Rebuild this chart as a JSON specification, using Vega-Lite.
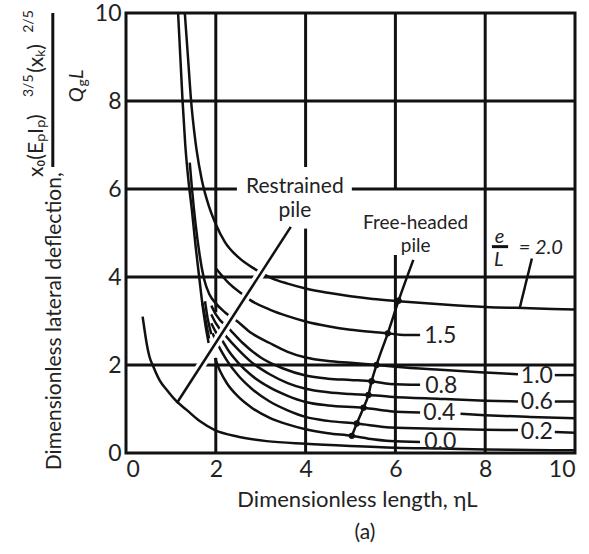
{
  "$schema": "https://vega.github.io/schema/vega-lite/v6.json",
  "width": 449,
  "height": 440,
  "autosize": {"type": "none"},
  "padding": {"left": 126, "top": 13, "right": 14, "bottom": 101},
  "background": "white",
  "config": {
    "view": {"stroke": "#111", "strokeWidth": 3},
    "font": "Lato",
    "axis": {"labelFont": "Lato", "labelFontSize": 23, "labelColor": "#222", "ticks": false, "domain": false, "grid": false, "labelPadding": 5, "titleFont": "Lato", "titleFontSize": 22, "titleFontWeight": "normal", "titleColor": "#222"}
  },
  "datasets": {
    "curves": [
      {"c": "steepA", "x": 1.16, "y": 10}, {"c": "steepA", "x": 1.21, "y": 9}, {"c": "steepA", "x": 1.26, "y": 8}, {"c": "steepA", "x": 1.32, "y": 7}, {"c": "steepA", "x": 1.39, "y": 6.2}, {"c": "steepA", "x": 1.47, "y": 5.5}, {"c": "steepA", "x": 1.55, "y": 4.7}, {"c": "steepA", "x": 1.63, "y": 4.0}, {"c": "steepA", "x": 1.70, "y": 3.4}, {"c": "steepA", "x": 1.77, "y": 2.9}, {"c": "steepA", "x": 1.84, "y": 2.5},
      {"c": "e2.0", "x": 1.31, "y": 10}, {"c": "e2.0", "x": 1.38, "y": 9}, {"c": "e2.0", "x": 1.45, "y": 8}, {"c": "e2.0", "x": 1.52, "y": 7.3}, {"c": "e2.0", "x": 1.57, "y": 6.9}, {"c": "e2.0", "x": 1.69, "y": 6.2}, {"c": "e2.0", "x": 1.85, "y": 5.6}, {"c": "e2.0", "x": 2.0, "y": 5.2}, {"c": "e2.0", "x": 2.2, "y": 4.8}, {"c": "e2.0", "x": 2.5, "y": 4.45}, {"c": "e2.0", "x": 2.87, "y": 4.18}, {"c": "e2.0", "x": 3.25, "y": 3.97}, {"c": "e2.0", "x": 3.6, "y": 3.85}, {"c": "e2.0", "x": 4, "y": 3.74}, {"c": "e2.0", "x": 4.5, "y": 3.64}, {"c": "e2.0", "x": 5, "y": 3.56}, {"c": "e2.0", "x": 5.5, "y": 3.5}, {"c": "e2.0", "x": 6.07, "y": 3.45}, {"c": "e2.0", "x": 7, "y": 3.38}, {"c": "e2.0", "x": 8, "y": 3.32}, {"c": "e2.0", "x": 9, "y": 3.29}, {"c": "e2.0", "x": 10, "y": 3.26},
      {"c": "e1.5", "x": 2.0, "y": 4.2}, {"c": "e1.5", "x": 2.3, "y": 3.85}, {"c": "e1.5", "x": 2.58, "y": 3.62}, {"c": "e1.5", "x": 2.76, "y": 3.48}, {"c": "e1.5", "x": 3.2, "y": 3.26}, {"c": "e1.5", "x": 3.6, "y": 3.11}, {"c": "e1.5", "x": 4, "y": 2.99}, {"c": "e1.5", "x": 4.5, "y": 2.88}, {"c": "e1.5", "x": 5, "y": 2.8}, {"c": "e1.5", "x": 5.5, "y": 2.75}, {"c": "e1.5", "x": 5.83, "y": 2.72}, {"c": "e1.5", "x": 6.1, "y": 2.69}, {"c": "e1.5", "x": 6.55, "y": 2.68},
      {"c": "e1.0a", "x": 1.42, "y": 6.6}, {"c": "e1.0a", "x": 1.47, "y": 6.0}, {"c": "e1.0a", "x": 1.55, "y": 5.2}, {"c": "e1.0a", "x": 1.64, "y": 4.5}, {"c": "e1.0a", "x": 1.74, "y": 3.95}, {"c": "e1.0a", "x": 1.86, "y": 3.6}, {"c": "e1.0a", "x": 2.0, "y": 3.4}, {"c": "e1.0a", "x": 2.2, "y": 3.2}, {"c": "e1.0a", "x": 2.47, "y": 3.0}, {"c": "e1.0a", "x": 2.8, "y": 2.72}, {"c": "e1.0a", "x": 3.2, "y": 2.5}, {"c": "e1.0a", "x": 3.6, "y": 2.3}, {"c": "e1.0a", "x": 4, "y": 2.17}, {"c": "e1.0a", "x": 4.5, "y": 2.09}, {"c": "e1.0a", "x": 5, "y": 2.05}, {"c": "e1.0a", "x": 5.58, "y": 2.0}, {"c": "e1.0a", "x": 6, "y": 1.96}, {"c": "e1.0a", "x": 7, "y": 1.89}, {"c": "e1.0a", "x": 8, "y": 1.83}, {"c": "e1.0a", "x": 8.73, "y": 1.79},
      {"c": "e1.0b", "x": 9.55, "y": 1.77}, {"c": "e1.0b", "x": 10, "y": 1.77},
      {"c": "e0.8", "x": 1.9, "y": 3.35}, {"c": "e0.8", "x": 2.0, "y": 3.15}, {"c": "e0.8", "x": 2.32, "y": 2.8}, {"c": "e0.8", "x": 2.6, "y": 2.5}, {"c": "e0.8", "x": 3.0, "y": 2.17}, {"c": "e0.8", "x": 3.5, "y": 1.92}, {"c": "e0.8", "x": 4, "y": 1.76}, {"c": "e0.8", "x": 4.5, "y": 1.69}, {"c": "e0.8", "x": 5, "y": 1.66}, {"c": "e0.8", "x": 5.47, "y": 1.63}, {"c": "e0.8", "x": 5.88, "y": 1.57}, {"c": "e0.8", "x": 6.55, "y": 1.55},
      {"c": "e0.6a", "x": 1.9, "y": 3.15}, {"c": "e0.6a", "x": 2.0, "y": 2.95}, {"c": "e0.6a", "x": 2.24, "y": 2.64}, {"c": "e0.6a", "x": 2.5, "y": 2.35}, {"c": "e0.6a", "x": 2.8, "y": 2.06}, {"c": "e0.6a", "x": 3.2, "y": 1.79}, {"c": "e0.6a", "x": 3.6, "y": 1.59}, {"c": "e0.6a", "x": 4, "y": 1.46}, {"c": "e0.6a", "x": 4.5, "y": 1.38}, {"c": "e0.6a", "x": 5, "y": 1.34}, {"c": "e0.6a", "x": 5.4, "y": 1.32}, {"c": "e0.6a", "x": 5.88, "y": 1.28}, {"c": "e0.6a", "x": 7, "y": 1.23}, {"c": "e0.6a", "x": 8, "y": 1.19}, {"c": "e0.6a", "x": 8.73, "y": 1.17},
      {"c": "e0.6b", "x": 9.55, "y": 1.17}, {"c": "e0.6b", "x": 10, "y": 1.17},
      {"c": "e0.4a", "x": 1.9, "y": 2.95}, {"c": "e0.4a", "x": 2.0, "y": 2.75}, {"c": "e0.4a", "x": 2.16, "y": 2.53}, {"c": "e0.4a", "x": 2.3, "y": 2.3}, {"c": "e0.4a", "x": 2.5, "y": 2.05}, {"c": "e0.4a", "x": 2.8, "y": 1.76}, {"c": "e0.4a", "x": 3.2, "y": 1.49}, {"c": "e0.4a", "x": 3.6, "y": 1.3}, {"c": "e0.4a", "x": 4, "y": 1.16}, {"c": "e0.4a", "x": 4.5, "y": 1.08}, {"c": "e0.4a", "x": 5.29, "y": 1.03}, {"c": "e0.4a", "x": 5.88, "y": 0.95}, {"c": "e0.4a", "x": 6.55, "y": 0.92},
      {"c": "e0.4b", "x": 7.45, "y": 0.89}, {"c": "e0.4b", "x": 8, "y": 0.86}, {"c": "e0.4b", "x": 9, "y": 0.82}, {"c": "e0.4b", "x": 10, "y": 0.79},
      {"c": "e0.2a", "x": 1.93, "y": 2.72}, {"c": "e0.2a", "x": 2.0, "y": 2.55}, {"c": "e0.2a", "x": 2.09, "y": 2.38}, {"c": "e0.2a", "x": 2.25, "y": 2.1}, {"c": "e0.2a", "x": 2.5, "y": 1.76}, {"c": "e0.2a", "x": 2.8, "y": 1.46}, {"c": "e0.2a", "x": 3.2, "y": 1.17}, {"c": "e0.2a", "x": 3.6, "y": 0.97}, {"c": "e0.2a", "x": 4, "y": 0.82}, {"c": "e0.2a", "x": 4.5, "y": 0.73}, {"c": "e0.2a", "x": 5.14, "y": 0.67}, {"c": "e0.2a", "x": 5.88, "y": 0.58}, {"c": "e0.2a", "x": 7, "y": 0.55}, {"c": "e0.2a", "x": 8, "y": 0.53}, {"c": "e0.2a", "x": 8.73, "y": 0.52},
      {"c": "e0.2b", "x": 9.55, "y": 0.48}, {"c": "e0.2b", "x": 10, "y": 0.46},
      {"c": "e0.0", "x": 1.98, "y": 2.16}, {"c": "e0.0", "x": 2.1, "y": 1.85}, {"c": "e0.0", "x": 2.25, "y": 1.58}, {"c": "e0.0", "x": 2.5, "y": 1.28}, {"c": "e0.0", "x": 2.8, "y": 1.03}, {"c": "e0.0", "x": 3.2, "y": 0.8}, {"c": "e0.0", "x": 3.6, "y": 0.65}, {"c": "e0.0", "x": 4, "y": 0.54}, {"c": "e0.0", "x": 4.5, "y": 0.45}, {"c": "e0.0", "x": 5.03, "y": 0.39}, {"c": "e0.0", "x": 5.5, "y": 0.31}, {"c": "e0.0", "x": 5.88, "y": 0.27}, {"c": "e0.0", "x": 6.55, "y": 0.25},
      {"c": "restrained", "x": 0.37, "y": 3.1}, {"c": "restrained", "x": 0.42, "y": 2.75}, {"c": "restrained", "x": 0.46, "y": 2.49}, {"c": "restrained", "x": 0.52, "y": 2.2}, {"c": "restrained", "x": 0.61, "y": 1.96}, {"c": "restrained", "x": 0.75, "y": 1.65}, {"c": "restrained", "x": 0.91, "y": 1.43}, {"c": "restrained", "x": 1.1, "y": 1.2}, {"c": "restrained", "x": 1.35, "y": 0.98}, {"c": "restrained", "x": 1.65, "y": 0.72}, {"c": "restrained", "x": 1.98, "y": 0.52}, {"c": "restrained", "x": 2.5, "y": 0.37}, {"c": "restrained", "x": 3.13, "y": 0.27}, {"c": "restrained", "x": 4, "y": 0.21}, {"c": "restrained", "x": 5, "y": 0.16}, {"c": "restrained", "x": 6, "y": 0.12}, {"c": "restrained", "x": 7, "y": 0.1}, {"c": "restrained", "x": 8, "y": 0.08}, {"c": "restrained", "x": 9, "y": 0.07}, {"c": "restrained", "x": 10, "y": 0.06},
      {"c": "st1", "x": 1.70, "y": 3.42}, {"c": "st1", "x": 1.78, "y": 2.98}, {"c": "st1", "x": 1.85, "y": 2.6},
      {"c": "st2", "x": 1.76, "y": 3.45}, {"c": "st2", "x": 1.82, "y": 3.05}, {"c": "st2", "x": 1.9, "y": 2.7},
      {"c": "eLlead", "x": 8.77, "y": 3.3}, {"c": "eLlead", "x": 9.04, "y": 4.42},
      {"c": "freelead", "x": 5.03, "y": 0.39}, {"c": "freelead", "x": 5.14, "y": 0.67}, {"c": "freelead", "x": 5.29, "y": 1.03}, {"c": "freelead", "x": 5.40, "y": 1.32}, {"c": "freelead", "x": 5.47, "y": 1.63}, {"c": "freelead", "x": 5.58, "y": 2.0}, {"c": "freelead", "x": 5.83, "y": 2.72}, {"c": "freelead", "x": 6.07, "y": 3.46}, {"c": "freelead", "x": 6.4, "y": 4.39}
    ],
    "underlay": [{"c": "u", "x": 1.3, "y": 1.4}, {"c": "u", "x": 3.6, "y": 5.03}],
    "restlead": [{"c": "r", "x": 1.13, "y": 1.13}, {"c": "r", "x": 3.67, "y": 5.14}],
    "markers": [
      {"x": 6.07, "y": 3.46}, {"x": 5.83, "y": 2.72}, {"x": 5.58, "y": 2.0}, {"x": 5.47, "y": 1.63}, {"x": 5.40, "y": 1.32}, {"x": 5.29, "y": 1.03}, {"x": 5.14, "y": 0.67}, {"x": 5.03, "y": 0.39}
    ],
    "vgrid": [
      {"x": 2, "y": 0, "y2": 2.16}, {"x": 2, "y": 3.2, "y2": 10}, {"x": 4, "y": 0, "y2": 5.1}, {"x": 4, "y": 6.5, "y2": 10}, {"x": 6, "y": 0, "y2": 4.5}, {"x": 6, "y": 6, "y2": 10}, {"x": 8, "y": 0, "y2": 10},
      {"x": -1.63, "y": 6.5, "y2": 10}
    ],
    "hgrid": [
      {"y": 2, "x": 0, "x2": 10}, {"y": 4, "x": 0, "x2": 10}, {"y": 6, "x": 0, "x2": 2.47}, {"y": 6, "x": 5.03, "x2": 10}, {"y": 8, "x": 0, "x2": 10},
      {"y": 4.69, "x": 8.15, "x2": 8.51}
    ],
    "labels": [
      {"t": "Restrained", "x": 3.76, "y": 6.05, "s": 21},
      {"t": "pile", "x": 3.76, "y": 5.49, "s": 21},
      {"t": "Free-headed", "x": 6.45, "y": 5.23, "s": 19},
      {"t": "pile", "x": 6.45, "y": 4.71, "s": 19},
      {"t": "1.5", "x": 7.0, "y": 2.66, "s": 23},
      {"t": "0.8", "x": 7.02, "y": 1.53, "s": 23},
      {"t": "0.4", "x": 6.98, "y": 0.91, "s": 23},
      {"t": "0.0", "x": 7.0, "y": 0.25, "s": 23},
      {"t": "1.0", "x": 9.15, "y": 1.74, "s": 23},
      {"t": "0.6", "x": 9.15, "y": 1.15, "s": 23},
      {"t": "0.2", "x": 9.15, "y": 0.48, "s": 23},
      {"t": "(a)", "x": 5.32, "y": -1.82, "s": 21}
    ],
    "italics": [
      {"t": "e", "x": 8.32, "y": 4.9, "s": 20},
      {"t": "L", "x": 8.3, "y": 4.39, "s": 20},
      {"t": "= 2.0", "x": 9.24, "y": 4.65, "s": 20}
    ],
    "rot": [
      {"t": "Dimensionless lateral deflection,", "x": -1.59, "y": -0.39, "s": 21},
      {"t": "x₀(EₚIₚ)", "x": -1.99, "y": 6.27, "s": 21},
      {"t": "3/5", "x": -2.16, "y": 8.09, "s": 14},
      {"t": "(xₖ)", "x": -1.99, "y": 8.64, "s": 21},
      {"t": "2/5", "x": -2.16, "y": 9.55, "s": 14},
      {"t": "g", "x": -0.96, "y": 8.33, "s": 14}
    ],
    "rotital": [
      {"t": "Q", "x": -1.1, "y": 7.97, "s": 20},
      {"t": "L", "x": -1.1, "y": 8.5, "s": 20}
    ]
  },
  "encoding": {
    "x": {"type": "quantitative", "scale": {"domain": [0, 10], "nice": false, "zero": false}, "axis": {"values": [0, 2, 4, 6, 8, 10], "title": "Dimensionless length, ηL", "titlePadding": 8, "titleX": 231, "titleAlign": "center"}},
    "y": {"type": "quantitative", "scale": {"domain": [0, 10], "nice": false, "zero": false}, "axis": {"values": [0, 2, 4, 6, 8, 10], "title": null}}
  },
  "layer": [
    {"data": {"name": "vgrid"}, "mark": {"type": "rule", "stroke": "#111", "strokeWidth": 3}, "encoding": {"x": {"field": "x"}, "y": {"field": "y"}, "y2": {"field": "y2"}}},
    {"data": {"name": "hgrid"}, "mark": {"type": "rule", "stroke": "#111", "strokeWidth": 3}, "encoding": {"y": {"field": "y"}, "x": {"field": "x"}, "x2": {"field": "x2"}}},
    {"data": {"name": "curves"}, "mark": {"type": "line", "stroke": "#111", "strokeWidth": 2.5, "interpolate": "monotone"}, "encoding": {"x": {"field": "x"}, "y": {"field": "y"}, "detail": {"field": "c"}}},
    {"data": {"name": "underlay"}, "mark": {"type": "line", "stroke": "white", "strokeWidth": 9}, "encoding": {"x": {"field": "x"}, "y": {"field": "y"}}},
    {"data": {"name": "restlead"}, "mark": {"type": "line", "stroke": "#111", "strokeWidth": 2.5}, "encoding": {"x": {"field": "x"}, "y": {"field": "y"}}},
    {"data": {"name": "markers"}, "mark": {"type": "point", "filled": true, "color": "#111", "size": 40, "opacity": 1}, "encoding": {"x": {"field": "x"}, "y": {"field": "y"}}},
    {"data": {"name": "labels"}, "mark": {"type": "text", "font": "Lato", "color": "#222", "align": "center", "baseline": "middle"}, "encoding": {"x": {"field": "x"}, "y": {"field": "y"}, "text": {"field": "t"}, "size": {"field": "s", "type": "quantitative", "scale": null}}},
    {"data": {"name": "italics"}, "mark": {"type": "text", "font": "Lato", "fontStyle": "italic", "color": "#222", "align": "center", "baseline": "middle"}, "encoding": {"x": {"field": "x"}, "y": {"field": "y"}, "text": {"field": "t"}, "size": {"field": "s", "type": "quantitative", "scale": null}}},
    {"data": {"name": "rot"}, "mark": {"type": "text", "font": "Lato", "color": "#222", "align": "left", "baseline": "middle", "angle": 270}, "encoding": {"x": {"field": "x"}, "y": {"field": "y"}, "text": {"field": "t"}, "size": {"field": "s", "type": "quantitative", "scale": null}}},
    {"data": {"name": "rotital"}, "mark": {"type": "text", "font": "Lato", "fontStyle": "italic", "color": "#222", "align": "left", "baseline": "middle", "angle": 270}, "encoding": {"x": {"field": "x"}, "y": {"field": "y"}, "text": {"field": "t"}, "size": {"field": "s", "type": "quantitative", "scale": null}}}
  ]
}
